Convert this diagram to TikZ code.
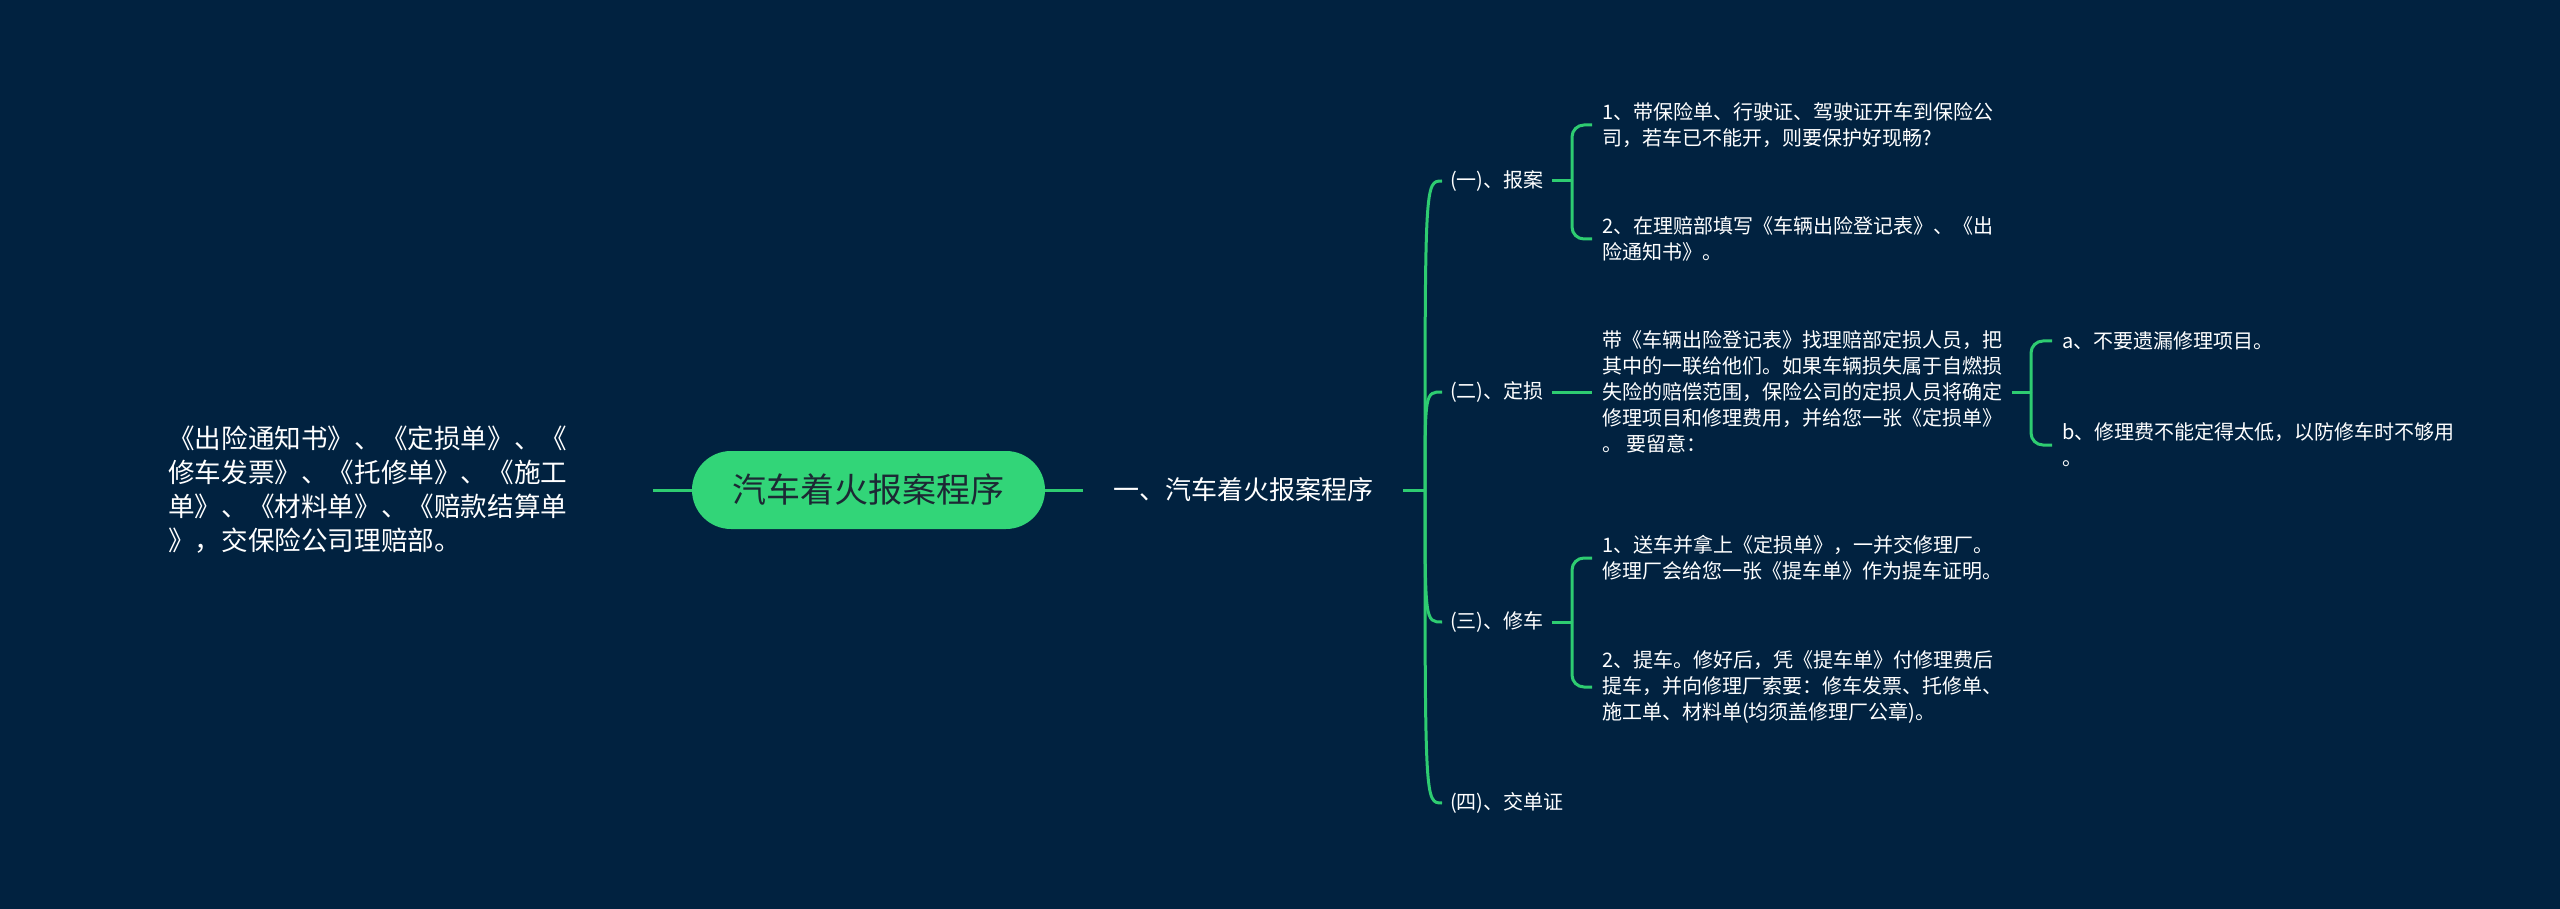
\documentclass[tikz,border=0pt]{standalone}
\usepackage{fontspec}
\setmainfont{Noto Sans CJK SC}
\definecolor{bg}{RGB}{1,34,64}
\definecolor{ln}{RGB}{46,204,113}
\definecolor{rootfill}{RGB}{50,213,120}
\definecolor{roottext}{RGB}{28,40,52}
\tikzset{
 conn/.style={draw=ln, line width=3pt},
 brk/.style={conn, rounded corners=12pt},
 small/.style={text=white, font=\fontsize{20}{26}\selectfont, inner xsep=10pt, inner ysep=0pt, align=left, anchor=west},
 child/.style={text=white, font=\fontsize{20}{26}\selectfont, inner xsep=8pt, inner ysep=0pt, anchor=west},
 rootbox/.style={fill=rootfill, rounded corners=39pt, minimum width=353pt, minimum height=78pt, text=roottext, font=\fontsize{34}{40}\selectfont, inner sep=0pt},
 main/.style={text=white, font=\fontsize{26}{32}\selectfont, inner xsep=30pt, inner ysep=0pt, anchor=west},
 lefttext/.style={text=white, font=\fontsize{26.6}{34}\selectfont, align=left, inner sep=0pt, anchor=west},
}
\begin{document}
\begin{tikzpicture}[x=1pt,y=-1pt]
\fill[bg] (0,0) rectangle (2560,909);
\useasboundingbox (0,0) rectangle (2560,909);

\node[rootbox] (root) at (868.5,490) {汽车着火报案程序};
\node[lefttext] (left) at (168,490) {《出险通知书》、《定损单》、《\\修车发票》、《托修单》、《施工\\单》、《材料单》、《赔款结算单\\》，交保险公司理赔部。};
\coordinate (lend) at (653,490);
\draw[conn] (lend) -- (root.west);
\node[main] (m) at (1083,490) {一、汽车着火报案程序};
\draw[conn] (root.east) -- (m.west);
\coordinate (hub) at (1425,490);
\draw[conn] (m.east) -- (hub);

\node[child] (c1) at (1442,181) {(一)、报案};
\node[child] (c2) at (1442,392) {(二)、定损};
\node[child] (c3) at (1442,622) {(三)、修车};
\node[child] (c4) at (1442,803) {(四)、交单证};
\foreach \c in {c1,c2,c3,c4} \draw[conn] (hub) .. controls (hub |- \c.west) .. (\c.west);

% (一)
\coordinate (b1) at (1572,181);
\draw[conn] (c1.east) -- (b1);
\node[small] (i11) at (1592,125) {1、带保险单、行驶证、驾驶证开车到保险公\\司，若车已不能开，则要保护好现畅?};
\node[small] (i12) at (1592,239) {2、在理赔部填写《车辆出险登记表》、《出\\险通知书》。};
\draw[brk] (b1) |- (i11.west);
\draw[brk] (b1) |- (i12.west);

% (二)
\node[small] (i2) at (1592,392) {带《车辆出险登记表》找理赔部定损人员，把\\其中的一联给他们。如果车辆损失属于自燃损\\失险的赔偿范围，保险公司的定损人员将确定\\修理项目和修理费用，并给您一张《定损单》\\。 要留意：};
\draw[conn] (c2.east) -- (i2.west);
\coordinate (b2) at (2031,392);
\draw[conn] (i2.east) -- (b2);
\node[small] (ia) at (2052,341) {a、不要遗漏修理项目。};
\node[small] (ib) at (2052,445) {b、修理费不能定得太低，以防修车时不够用\\。};
\draw[brk] (b2) |- (ia.west);
\draw[brk] (b2) |- (ib.west);

% (三)
\coordinate (b3) at (1572,622);
\draw[conn] (c3.east) -- (b3);
\node[small] (i31) at (1592,558) {1、送车并拿上《定损单》，一并交修理厂。\\修理厂会给您一张《提车单》作为提车证明。};
\node[small] (i32) at (1592,687) {2、提车。修好后，凭《提车单》付修理费后\\提车，并向修理厂索要：修车发票、托修单、\\施工单、材料单(均须盖修理厂公章)。};
\draw[brk] (b3) |- (i31.west);
\draw[brk] (b3) |- (i32.west);
\end{tikzpicture}
\end{document}
